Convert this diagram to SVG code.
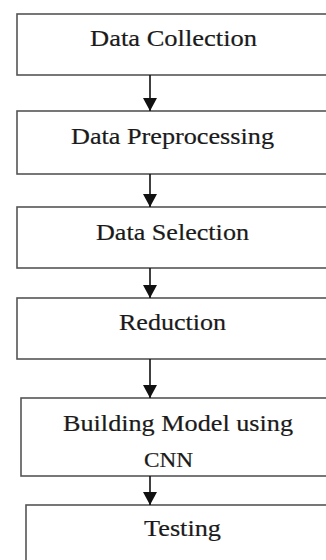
<svg xmlns="http://www.w3.org/2000/svg" width="326" height="560" viewBox="0 0 326 560">
<style>
.box{fill:#fff;stroke:#555;stroke-width:1.6}
.lbl{font-family:"Liberation Serif","Times New Roman",serif;font-size:24px;fill:#1a1a1a;text-anchor:middle;stroke:#1a1a1a;stroke-width:0.2}
.sm{font-size:21px}
.con{stroke:#111;stroke-width:1.6;fill:none}
</style>
<defs>
<marker id="ah" markerWidth="13" markerHeight="14" refX="13" refY="7" orient="auto" markerUnits="userSpaceOnUse">
<path d="M0,0 L13,7 L0,14 Z" fill="#111"/>
</marker>
</defs>
<rect width="326" height="560" fill="#fff"/>
<g id="n1"><rect class="box" x="17" y="14" width="330" height="61"/><text class="lbl" x="173.5" y="46" textLength="167" lengthAdjust="spacingAndGlyphs">Data Collection</text></g>
<g id="n2"><rect class="box" x="17" y="111" width="330" height="63"/><text class="lbl" x="172.5" y="144" textLength="203" lengthAdjust="spacingAndGlyphs">Data Preprocessing</text></g>
<g id="n3"><rect class="box" x="17" y="207" width="330" height="61"/><text class="lbl" x="172.5" y="240" textLength="153" lengthAdjust="spacingAndGlyphs">Data Selection</text></g>
<g id="n4"><rect class="box" x="17" y="298" width="330" height="61"/><text class="lbl" x="172.5" y="330" textLength="107" lengthAdjust="spacingAndGlyphs">Reduction</text></g>
<g id="n5"><rect class="box" x="21" y="398" width="330" height="78"/><text class="lbl" x="178" y="431" textLength="230" lengthAdjust="spacingAndGlyphs">Building Model using</text><text class="lbl sm" x="168.5" y="467" textLength="49" lengthAdjust="spacingAndGlyphs">CNN</text></g>
<g id="n6"><rect class="box" x="26" y="505" width="330" height="80"/><text class="lbl" x="182.5" y="536" textLength="77" lengthAdjust="spacingAndGlyphs">Testing</text></g>
<g id="connectors">
<line class="con" x1="150" y1="75" x2="150" y2="111" marker-end="url(#ah)"/>
<line class="con" x1="150" y1="174" x2="150" y2="207" marker-end="url(#ah)"/>
<line class="con" x1="150" y1="268" x2="150" y2="298" marker-end="url(#ah)"/>
<line class="con" x1="150" y1="359" x2="150" y2="398" marker-end="url(#ah)"/>
<line class="con" x1="150" y1="476" x2="150" y2="505" marker-end="url(#ah)"/>
</g>
</svg>
